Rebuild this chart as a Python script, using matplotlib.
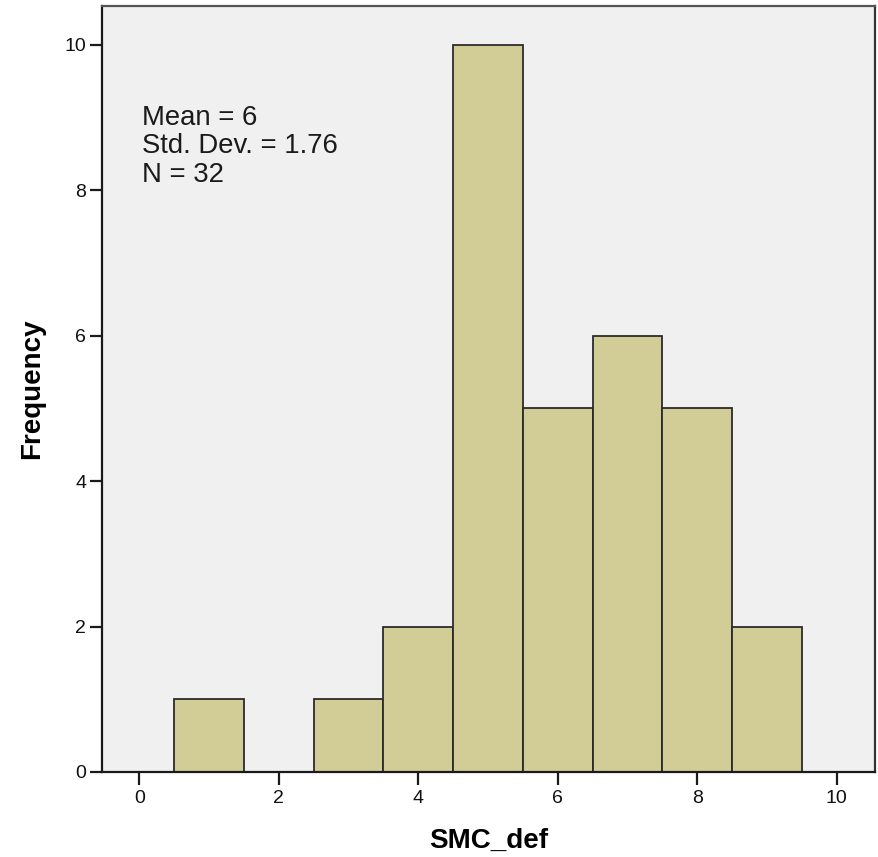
import matplotlib
matplotlib.use("Agg")
import matplotlib.pyplot as plt

# Data
bin_centers = [1, 3, 4, 5, 6, 7, 8, 9]
counts = [1, 1, 2, 10, 5, 6, 5, 2]
x_ticks = [0, 2, 4, 6, 8, 10]
y_ticks = [0, 2, 4, 6, 8, 10]
stats_lines = ["Mean = 6", "Std. Dev. = 1.76", "N = 32"]
x_label = "SMC_def"
y_label = "Frequency"

plt.rcParams['font.family'] = ['Liberation Sans', 'DejaVu Sans']

fig = plt.figure(figsize=(8.79, 8.57), dpi=100)
W, H = 879, 857
left, right, top, bottom = 101.6, 875, 6, 772
ax = fig.add_axes([left / W, 1 - bottom / H, (right - left) / W, (bottom - top) / H])
ax.set_facecolor('#F0F0F0')

ax.bar(bin_centers, counts, width=1.0, color='#D2CD96', edgecolor='#2b2b2b',
       linewidth=1.3, zorder=2)

ax.set_xlim(-0.54, 10.55)
ax.set_ylim(0, 10.53)
ax.set_xticks(x_ticks)
ax.set_yticks(y_ticks)

for s in ax.spines.values():
    s.set_linewidth(1.6)
    s.set_color('#1a1a1a')
ax.spines['top'].set_color('#555555')
ax.spines['right'].set_color('#333333')

ax.tick_params(axis='both', direction='out', length=9, width=1.6, color='#1a1a1a',
               labelsize=14, labelcolor='#111111')
ax.tick_params(axis='y', pad=2)
ax.tick_params(axis='x', pad=4)

ax.set_xlabel(x_label, fontsize=20, fontweight='bold', va='baseline')
ax.xaxis.set_label_coords(0.5, (772 - 848) / 766)
ax.set_ylabel(y_label, fontsize=20, fontweight='bold', va='center')
ax.yaxis.set_label_coords((32 - 101.6) / 773.4, 0.5)

baselines = [125, 153, 182]
for line, b in zip(stats_lines, baselines):
    ax.text((142 - 101.6) / 773.4, (772 - b) / 766, line, transform=ax.transAxes,
            fontsize=19.8, va='baseline', ha='left', color='#1a1a1a')

fig.savefig('out.png', dpi=100)
